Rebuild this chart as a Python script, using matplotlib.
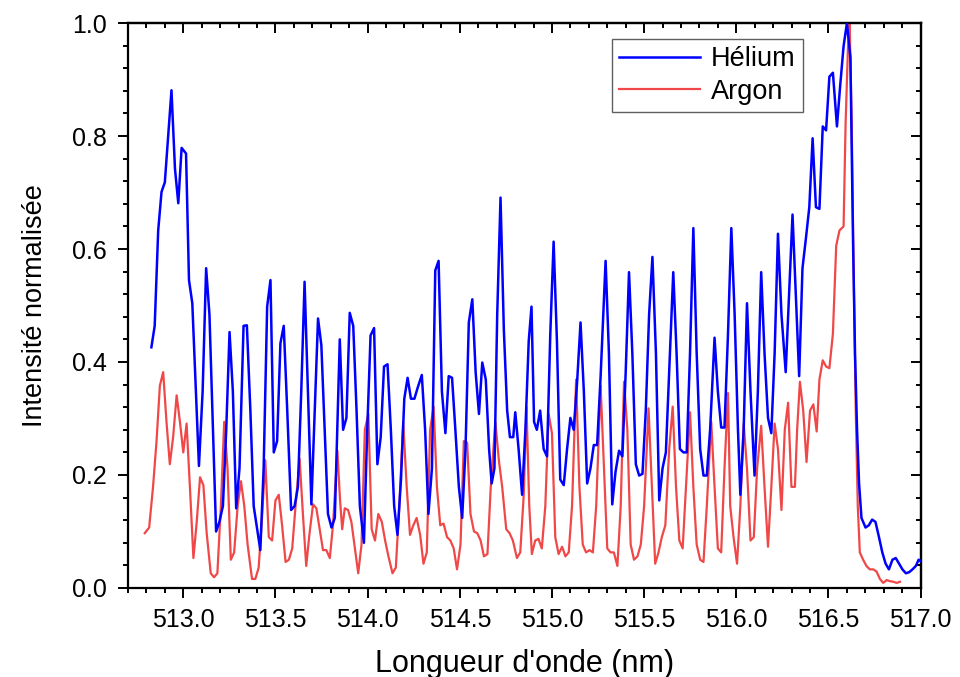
import matplotlib
matplotlib.use("Agg")
import matplotlib.pyplot as plt
from matplotlib.ticker import MultipleLocator

# ---- data ----
helium_wl = [512.827, 512.845, 512.864, 512.882, 512.900, 512.936, 512.955, 512.973, 512.991, 513.015,
             513.031, 513.049, 513.085, 513.105, 513.124, 513.142, 513.178, 513.196, 513.215, 513.233,
             513.251, 513.269, 513.287, 513.305, 513.327, 513.345, 513.364, 513.382, 513.418, 513.436,
             513.455, 513.473, 513.491, 513.509, 513.527, 513.545, 513.564, 513.585, 513.604, 513.622,
             513.640, 513.658, 513.676, 513.695, 513.713, 513.731, 513.749, 513.767, 513.785, 513.804,
             513.822, 513.849, 513.867, 513.885, 513.903, 513.922, 513.940, 513.958, 513.980, 513.998,
             514.016, 514.035, 514.053, 514.071, 514.089, 514.108, 514.126, 514.144, 514.162, 514.181,
             514.199, 514.217, 514.235, 514.254, 514.272, 514.294, 514.312, 514.330, 514.349, 514.367,
             514.385, 514.403, 514.422, 514.440, 514.458, 514.476, 514.495, 514.513, 514.531, 514.549,
             514.568, 514.586, 514.604, 514.622, 514.641, 514.659, 514.673, 514.688, 514.703, 514.721,
             514.739, 514.757, 514.772, 514.790, 514.801, 514.819, 514.838, 514.856, 514.874, 514.889,
             514.903, 514.918, 514.936, 514.955, 514.973, 514.991, 515.009, 515.027, 515.045, 515.064,
             515.082, 515.100, 515.118, 515.136, 515.155, 515.173, 515.191, 515.209, 515.227, 515.245,
             515.264, 515.291, 515.309, 515.327, 515.345, 515.364, 515.382, 515.400, 515.418, 515.436,
             515.455, 515.473, 515.491, 515.509, 515.527, 515.545, 515.564, 515.582, 515.600, 515.618,
             515.636, 515.658, 515.676, 515.694, 515.713, 515.731, 515.749, 515.767, 515.785, 515.804,
             515.822, 515.840, 515.858, 515.882, 515.900, 515.918, 515.936, 515.955, 515.973, 515.991,
             516.009, 516.022, 516.040, 516.058, 516.077, 516.099, 516.117, 516.135, 516.153, 516.172,
             516.190, 516.208, 516.226, 516.245, 516.268, 516.286, 516.305, 516.323, 516.341, 516.359,
             516.378, 516.396, 516.414, 516.432, 516.451, 516.469, 516.487, 516.505, 516.524, 516.546,
             516.564, 516.582, 516.600, 516.619, 516.633, 516.644, 516.655, 516.666, 516.679, 516.701,
             516.719, 516.737, 516.755, 516.774, 516.792, 516.810, 516.828, 516.847, 516.865, 516.883,
             516.901, 516.920, 516.938, 516.956, 516.974, 516.989, 517.007]
helium_int = [0.426, 0.464, 0.633, 0.701, 0.718, 0.881, 0.742, 0.681, 0.779, 0.769,
              0.545, 0.504, 0.216, 0.348, 0.566, 0.484, 0.100, 0.117, 0.145, 0.280,
              0.453, 0.348, 0.141, 0.212, 0.464, 0.465, 0.314, 0.145, 0.067, 0.212,
              0.498, 0.545, 0.240, 0.260, 0.433, 0.464, 0.314, 0.138, 0.145, 0.179,
              0.348, 0.542, 0.348, 0.148, 0.314, 0.477, 0.430, 0.280, 0.131, 0.107,
              0.124, 0.440, 0.280, 0.301, 0.487, 0.464, 0.314, 0.145, 0.080, 0.280,
              0.447, 0.460, 0.219, 0.267, 0.392, 0.396, 0.280, 0.145, 0.094, 0.192,
              0.335, 0.372, 0.335, 0.335, 0.355, 0.377, 0.280, 0.131, 0.212, 0.562,
              0.579, 0.348, 0.274, 0.375, 0.372, 0.280, 0.179, 0.124, 0.246, 0.470,
              0.511, 0.382, 0.308, 0.399, 0.369, 0.246, 0.185, 0.212, 0.484, 0.691,
              0.457, 0.314, 0.267, 0.267, 0.311, 0.246, 0.165, 0.280, 0.437, 0.498,
              0.294, 0.280, 0.314, 0.246, 0.233, 0.450, 0.613, 0.437, 0.192, 0.182,
              0.246, 0.301, 0.280, 0.362, 0.470, 0.348, 0.185, 0.212, 0.253, 0.253,
              0.375, 0.579, 0.416, 0.148, 0.206, 0.243, 0.233, 0.382, 0.559, 0.416,
              0.219, 0.199, 0.202, 0.314, 0.484, 0.586, 0.416, 0.155, 0.212, 0.240,
              0.382, 0.559, 0.416, 0.246, 0.240, 0.240, 0.416, 0.637, 0.416, 0.246,
              0.199, 0.199, 0.280, 0.443, 0.348, 0.284, 0.284, 0.450, 0.637, 0.484,
              0.280, 0.165, 0.280, 0.504, 0.348, 0.199, 0.348, 0.559, 0.416, 0.301,
              0.274, 0.416, 0.627, 0.484, 0.382, 0.518, 0.661, 0.518, 0.375, 0.566,
              0.620, 0.674, 0.796, 0.674, 0.671, 0.817, 0.810, 0.905, 0.912, 0.817,
              0.891, 0.959, 1.000, 0.939, 0.620, 0.416, 0.280, 0.185, 0.124, 0.107,
              0.111, 0.121, 0.117, 0.090, 0.063, 0.043, 0.033, 0.050, 0.053, 0.043,
              0.033, 0.026, 0.028, 0.033, 0.039, 0.050, 0.046]

argon_wl = [512.791, 512.815, 512.836, 512.855, 512.873, 512.891, 512.909, 512.927, 512.945, 512.964,
            512.982, 513.000, 513.018, 513.036, 513.055, 513.073, 513.091, 513.109, 513.127, 513.149,
            513.167, 513.185, 513.204, 513.222, 513.240, 513.258, 513.276, 513.295, 513.313, 513.331,
            513.349, 513.373, 513.391, 513.409, 513.427, 513.445, 513.464, 513.482, 513.500, 513.518,
            513.536, 513.555, 513.573, 513.591, 513.609, 513.631, 513.649, 513.667, 513.685, 513.704,
            513.722, 513.740, 513.758, 513.776, 513.795, 513.813, 513.836, 513.850, 513.862, 513.876,
            513.894, 513.912, 513.931, 513.949, 513.967, 513.985, 514.004, 514.022, 514.040, 514.058,
            514.077, 514.095, 514.113, 514.135, 514.153, 514.172, 514.193, 514.212, 514.230, 514.248,
            514.266, 514.285, 514.303, 514.321, 514.339, 514.358, 514.376, 514.394, 514.412, 514.431,
            514.449, 514.467, 514.485, 514.504, 514.522, 514.540, 514.558, 514.577, 514.595, 514.613,
            514.631, 514.650, 514.668, 514.693, 514.712, 514.730, 514.752, 514.770, 514.788, 514.810,
            514.828, 514.847, 514.862, 514.877, 514.891, 514.909, 514.927, 514.945, 514.964, 514.982,
            515.000, 515.018, 515.036, 515.055, 515.073, 515.091, 515.109, 515.131, 515.149, 515.167,
            515.185, 515.204, 515.222, 515.240, 515.264, 515.282, 515.300, 515.318, 515.336, 515.355,
            515.373, 515.391, 515.409, 515.427, 515.445, 515.464, 515.482, 515.500, 515.524, 515.542,
            515.560, 515.578, 515.596, 515.615, 515.636, 515.655, 515.673, 515.691, 515.709, 515.727,
            515.749, 515.767, 515.785, 515.804, 515.822, 515.840, 515.864, 515.882, 515.900, 515.918,
            515.936, 515.955, 515.967, 515.985, 516.004, 516.022, 516.040, 516.058, 516.077, 516.095,
            516.113, 516.135, 516.153, 516.172, 516.190, 516.208, 516.226, 516.245, 516.263, 516.281,
            516.299, 516.318, 516.330, 516.345, 516.363, 516.381, 516.400, 516.418, 516.436, 516.451,
            516.469, 516.487, 516.505, 516.524, 516.542, 516.560, 516.582, 516.593, 516.606, 516.615,
            516.626, 516.637, 516.648, 516.659, 516.670, 516.688, 516.706, 516.724, 516.743, 516.761,
            516.779, 516.797, 516.816, 516.834, 516.852, 516.870, 516.888]
argon_int = [0.097, 0.107, 0.179, 0.260, 0.358, 0.382, 0.294, 0.219, 0.267, 0.341,
             0.294, 0.240, 0.291, 0.179, 0.053, 0.117, 0.196, 0.182, 0.097, 0.026,
             0.019, 0.026, 0.145, 0.294, 0.212, 0.050, 0.063, 0.145, 0.189, 0.145,
             0.077, 0.016, 0.016, 0.036, 0.124, 0.226, 0.090, 0.084, 0.155, 0.165,
             0.111, 0.046, 0.050, 0.070, 0.145, 0.229, 0.131, 0.039, 0.097, 0.148,
             0.141, 0.104, 0.067, 0.067, 0.053, 0.114, 0.243, 0.158, 0.104, 0.141,
             0.138, 0.117, 0.070, 0.026, 0.077, 0.280, 0.308, 0.104, 0.084, 0.131,
             0.117, 0.084, 0.056, 0.026, 0.036, 0.145, 0.294, 0.179, 0.094, 0.111,
             0.124, 0.094, 0.043, 0.063, 0.280, 0.321, 0.179, 0.111, 0.114, 0.090,
             0.084, 0.070, 0.033, 0.077, 0.260, 0.257, 0.131, 0.100, 0.097, 0.084,
             0.056, 0.060, 0.179, 0.294, 0.226, 0.179, 0.104, 0.097, 0.084, 0.053,
             0.063, 0.165, 0.320, 0.145, 0.060, 0.084, 0.087, 0.070, 0.145, 0.308,
             0.274, 0.090, 0.060, 0.073, 0.056, 0.063, 0.145, 0.369, 0.179, 0.077,
             0.063, 0.067, 0.063, 0.145, 0.358, 0.212, 0.070, 0.063, 0.063, 0.039,
             0.145, 0.365, 0.280, 0.077, 0.050, 0.056, 0.077, 0.145, 0.318, 0.179,
             0.043, 0.063, 0.090, 0.111, 0.246, 0.321, 0.179, 0.084, 0.070, 0.179,
             0.311, 0.179, 0.077, 0.050, 0.046, 0.145, 0.294, 0.179, 0.070, 0.063,
             0.212, 0.345, 0.145, 0.090, 0.043, 0.145, 0.291, 0.212, 0.084, 0.090,
             0.212, 0.287, 0.179, 0.073, 0.179, 0.291, 0.246, 0.138, 0.280, 0.328,
             0.179, 0.179, 0.280, 0.365, 0.314, 0.223, 0.314, 0.325, 0.277, 0.369,
             0.403, 0.392, 0.389, 0.450, 0.606, 0.633, 0.640, 0.823, 0.959, 1.000,
             0.823, 0.552, 0.314, 0.145, 0.063, 0.050, 0.039, 0.033, 0.033, 0.029,
             0.016, 0.009, 0.014, 0.012, 0.011, 0.009, 0.011]

x_major_ticks = [513.0, 513.5, 514.0, 514.5, 515.0, 515.5, 516.0, 516.5, 517.0]
y_major_ticks = [0.0, 0.2, 0.4, 0.6, 0.8, 1.0]

plt.rcParams["font.family"] = ["Liberation Sans", "DejaVu Sans"]

fig = plt.figure(figsize=(9.6, 6.77), dpi=100)
ax = fig.add_axes([0.1333, 0.1315, 0.8257, 0.8345])

ax.plot(helium_wl, helium_int, color="#0000ff", lw=1.8, label="Hélium", zorder=3)
ax.plot(argon_wl, argon_int, color="#f04848", lw=1.6, label="Argon", zorder=2)

ax.set_xlim(512.7, 517.0)
ax.set_ylim(0.0, 1.0)
ax.set_xticks(x_major_ticks)
ax.set_yticks(y_major_ticks)
ax.set_xticklabels([f"{v:.1f}" for v in x_major_ticks])
ax.set_yticklabels([f"{v:.1f}" for v in y_major_ticks])
ax.xaxis.set_minor_locator(MultipleLocator(0.1))
ax.yaxis.set_minor_locator(MultipleLocator(0.04))
ax.tick_params(which="both", direction="out", top=False, right=False, width=1.4,
               labelsize=18)
ax.tick_params(which="major", length=7.5)
ax.tick_params(axis="x", which="major", pad=7)
ax.tick_params(axis="y", which="major", pad=8)
ax.tick_params(which="minor", length=3.5)

# top/right inward ticks
sx = ax.secondary_xaxis("top")
sx.set_xticks(x_major_ticks)
sx.xaxis.set_minor_locator(MultipleLocator(0.1))
sx.tick_params(which="both", direction="in", labeltop=False, width=1.4)
sx.tick_params(which="major", length=7.5)
sx.tick_params(which="minor", length=3.5)
sy = ax.secondary_yaxis("right")
sy.set_yticks(y_major_ticks)
sy.yaxis.set_minor_locator(MultipleLocator(0.04))
sy.tick_params(which="both", direction="in", labelright=False, width=1.4)
sy.tick_params(which="major", length=7.5)
sy.tick_params(which="minor", length=3.5)

for obj in (ax, sx, sy):
    for s in obj.spines.values():
        s.set_linewidth(1.6)

ax.set_xlabel("Longueur d'onde (nm)", fontsize=22, labelpad=12)
ax.set_ylabel("Intensité normalisée", fontsize=19.5, labelpad=17)

leg = ax.legend(loc="upper left", bbox_to_anchor=(0.611, 0.971), fontsize=19.5,
                frameon=True, fancybox=False, edgecolor="#606060", framealpha=1,
                handlelength=3.0, borderpad=0.25, labelspacing=0.25, handletextpad=0.4,
                borderaxespad=0)
leg.get_frame().set_linewidth(1.0)

fig.savefig("out.png", dpi=100)
